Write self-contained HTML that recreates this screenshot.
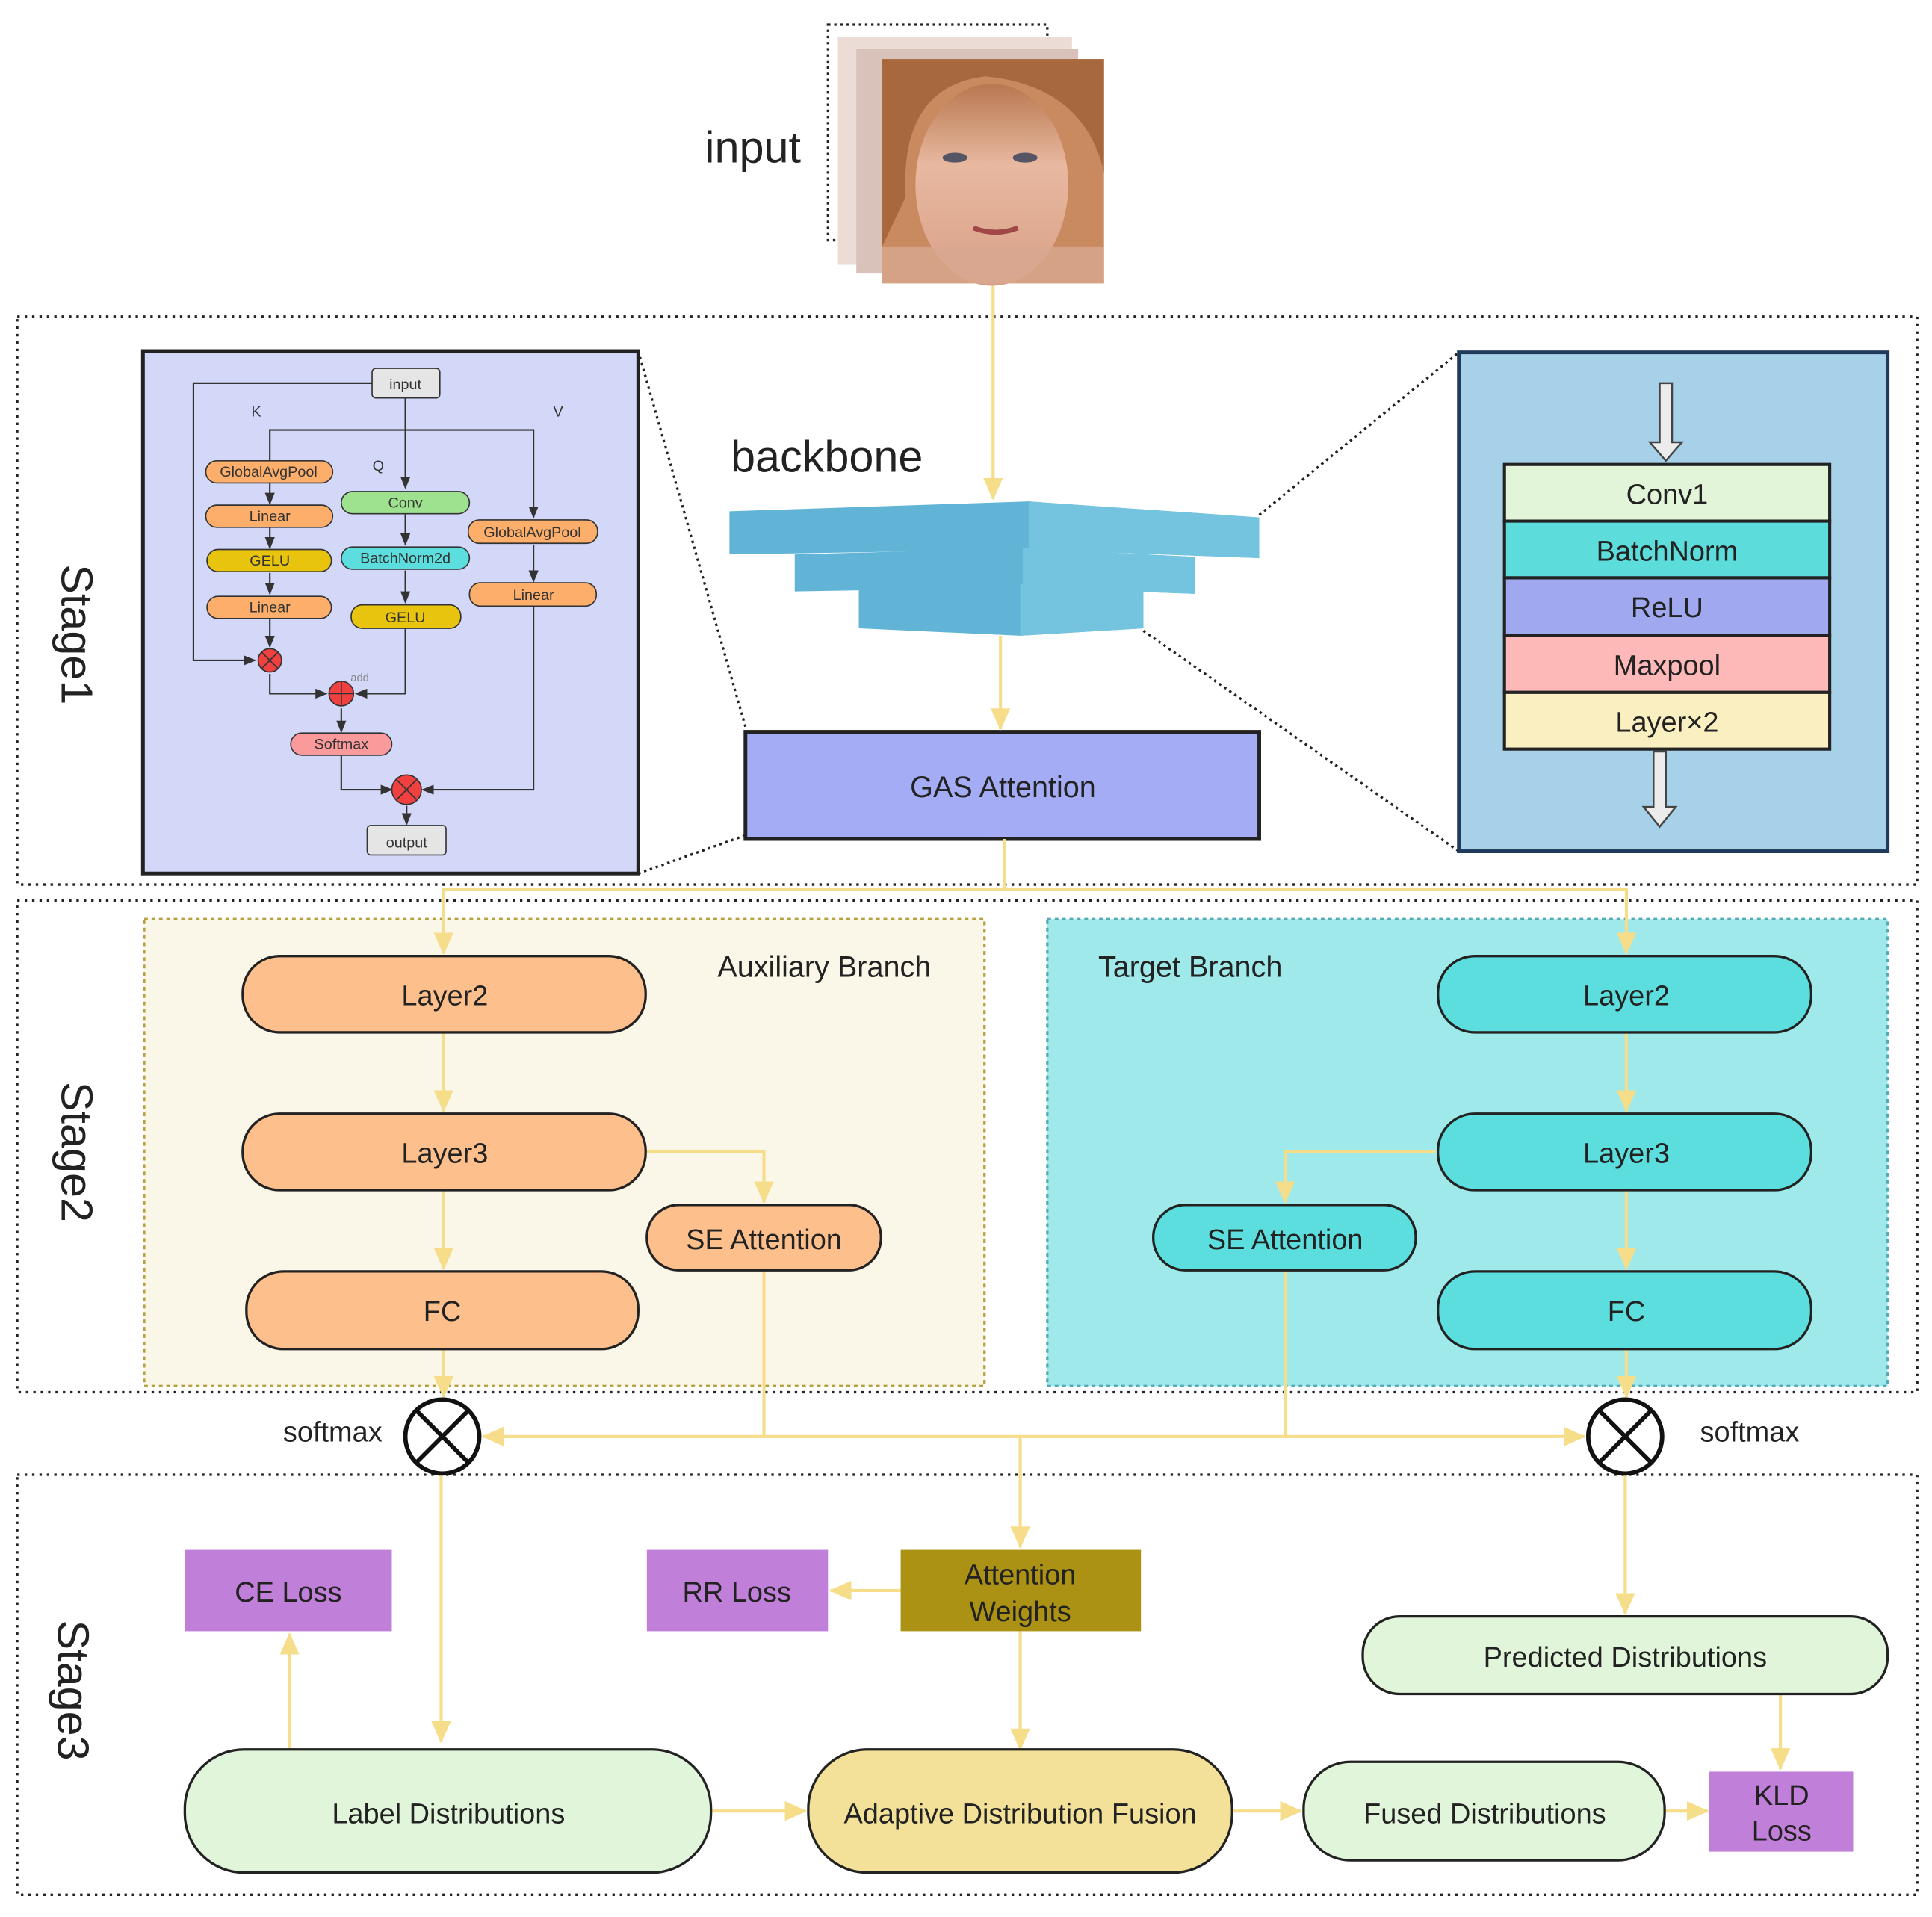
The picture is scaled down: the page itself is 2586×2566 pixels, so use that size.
<!DOCTYPE html>
<html><head><meta charset="utf-8"><style>html,body{margin:0;padding:0;background:#fff}svg{display:block}</style></head>
<body>
<svg width="2586" height="2566" viewBox="0 0 1568 1556" preserveAspectRatio="none" xmlns="http://www.w3.org/2000/svg" font-family="Liberation Sans, DejaVu Sans, sans-serif">
<defs>
<marker id="ay" markerWidth="8" markerHeight="8" refX="7" refY="4" orient="auto" markerUnits="userSpaceOnUse"><path d="M0,0 L8,4 L0,8 Z" fill="#f5dd8a"/></marker>
<marker id="ayb" markerWidth="18" markerHeight="16" refX="17" refY="8" orient="auto" markerUnits="userSpaceOnUse"><path d="M0,0 L18,8 L0,16 Z" fill="#f5dd8a"/></marker>
<marker id="ak" markerWidth="10" markerHeight="8" refX="9" refY="4" orient="auto" markerUnits="userSpaceOnUse"><path d="M0,0 L10,4 L0,8 Z" fill="#333"/></marker>
<linearGradient id="skin" x1="0" y1="0" x2="0" y2="1"><stop offset="0" stop-color="#b87850"/><stop offset="0.4" stop-color="#e8b8a0"/><stop offset="1" stop-color="#d9a088"/></linearGradient>
</defs>

<!-- input images -->
<text x="650" y="132" font-size="36" fill="#222" text-anchor="end">input</text>
<rect x="672" y="20" width="178" height="175" fill="none" stroke="#222" stroke-width="2" stroke-dasharray="2,3"/>
<rect x="680" y="30" width="190" height="185" fill="#ecdcd6"/>
<rect x="695" y="40" width="180" height="182" fill="#d8c2ba"/>
<rect x="716" y="48" width="180" height="182" fill="#c98a60"/>
<ellipse cx="805" cy="150" rx="62" ry="82" fill="url(#skin)"/>
<path d="M716,48 L896,48 L896,140 Q880,70 800,62 Q730,70 735,160 L716,200 Z" fill="#a8683e"/>
<ellipse cx="775" cy="128" rx="10" ry="4" fill="#556"/><ellipse cx="832" cy="128" rx="10" ry="4" fill="#556"/>
<path d="M790,185 Q808,192 826,185" stroke="#a04848" stroke-width="4" fill="none"/>
<rect x="716" y="200" width="180" height="30" fill="#d8a890" opacity="0.8"/>

<!-- stage boxes -->
<rect x="14" y="257" width="1542" height="461" fill="none" stroke="#222" stroke-width="2" stroke-dasharray="2,4"/>
<rect x="14" y="731" width="1542" height="399" fill="none" stroke="#222" stroke-width="2" stroke-dasharray="2,4"/>
<rect x="14" y="1197" width="1542" height="341" fill="none" stroke="#222" stroke-width="2" stroke-dasharray="2,4"/>
<text transform="translate(50,515) rotate(90)" font-size="36" fill="#222" text-anchor="middle">Stage1</text>
<text transform="translate(50,935) rotate(90)" font-size="36" fill="#222" text-anchor="middle">Stage2</text>
<text transform="translate(47,1372) rotate(90)" font-size="36" fill="#222" text-anchor="middle">Stage3</text>

<!-- dotted zoom lines -->
<g stroke="#222" stroke-width="2" stroke-dasharray="2,3" fill="none">
<line x1="518" y1="285" x2="605" y2="590"/><line x1="518" y1="709" x2="605" y2="678"/>
<line x1="1022" y1="418" x2="1184" y2="286"/><line x1="928" y1="512" x2="1184" y2="691"/>
</g>

<!-- attention panel -->
<rect x="116" y="285" width="402" height="424" fill="#d3d7f8" stroke="#222" stroke-width="3"/>
<g stroke="#333" stroke-width="1.3" fill="none">
<polyline points="302,311 157,311 157,536 207,536" marker-end="url(#ak)"/>
<line x1="329" y1="323" x2="329" y2="396" marker-end="url(#ak)"/>
<polyline points="219,374 219,349 433,349 433,420" marker-end="url(#ak)"/>
<line x1="219" y1="392" x2="219" y2="409" marker-end="url(#ak)"/>
<line x1="219" y1="428" x2="219" y2="445" marker-end="url(#ak)"/>
<line x1="219" y1="465" x2="219" y2="482" marker-end="url(#ak)"/>
<line x1="219" y1="502" x2="219" y2="525" marker-end="url(#ak)"/>
<line x1="329" y1="417" x2="329" y2="442" marker-end="url(#ak)"/>
<line x1="329" y1="463" x2="329" y2="489" marker-end="url(#ak)"/>
<line x1="433" y1="442" x2="433" y2="472" marker-end="url(#ak)"/>
<polyline points="219,547 219,563 265,563" marker-end="url(#ak)"/>
<polyline points="329,510 329,563 289,563" marker-end="url(#ak)"/>
<line x1="277" y1="575" x2="277" y2="594" marker-end="url(#ak)"/>
<polyline points="277,613 277,641 318,641" marker-end="url(#ak)"/>
<polyline points="433,492 433,641 343,641" marker-end="url(#ak)"/>
<line x1="330" y1="654" x2="330" y2="669" marker-end="url(#ak)"/>
</g>
<g font-size="11.5" text-anchor="middle" fill="#333" stroke="#333" stroke-width="1">
<rect x="302" y="299" width="55" height="24" rx="3" fill="#e5e5e5"/>
<rect x="167" y="374" width="103" height="18" rx="9" fill="#fdae6a"/>
<rect x="167" y="410" width="103" height="18" rx="9" fill="#fdae6a"/>
<rect x="168" y="446" width="101" height="18" rx="9" fill="#e8c40e"/>
<rect x="168" y="484" width="101" height="18" rx="9" fill="#fdae6a"/>
<rect x="277" y="399" width="104" height="18" rx="9" fill="#9ee28f"/>
<rect x="277" y="444" width="104" height="18" rx="9" fill="#5ddede"/>
<rect x="285" y="491" width="89" height="19" rx="9" fill="#e8c40e"/>
<rect x="380" y="422" width="105" height="19" rx="9" fill="#fdae6a"/>
<rect x="381" y="473" width="103" height="19" rx="9" fill="#fdae6a"/>
<rect x="236" y="595" width="82" height="18" rx="9" fill="#fb9a9a"/>
<rect x="298" y="670" width="64" height="24" rx="3" fill="#e5e5e5"/>
<circle cx="219" cy="536" r="9.5" fill="#f04040"/><path d="M212,529 L226,543 M226,529 L212,543"/>
<circle cx="277" cy="563" r="10" fill="#f04040"/><path d="M267,563 L287,563 M277,553 L277,573"/>
<circle cx="330" cy="641" r="12" fill="#f04040"/><path d="M322,633 L338,649 M338,633 L322,649"/>
</g>
<g font-size="12" text-anchor="middle" fill="#333">
<text x="329" y="316">input</text><text x="218" y="387">GlobalAvgPool</text><text x="219" y="423">Linear</text>
<text x="219" y="459">GELU</text><text x="219" y="497">Linear</text><text x="329" y="412">Conv</text>
<text x="329" y="457">BatchNorm2d</text><text x="329" y="505">GELU</text><text x="432" y="436">GlobalAvgPool</text>
<text x="433" y="487">Linear</text><text x="277" y="608">Softmax</text><text x="330" y="688">output</text>
<text x="208" y="338">K</text><text x="307" y="382">Q</text><text x="453" y="338">V</text>
<text x="292" y="553" font-size="9" fill="#888">add</text>
</g>

<!-- backbone -->
<text x="593" y="383" font-size="36" fill="#222">backbone</text>
<polygon points="592,415 835,407 1022,420 1022,453 835,446 592,450" fill="#62b4d6"/>
<polygon points="835,407 1022,420 1022,453 835,446" fill="#74c4e0"/>
<polygon points="645,450 830,445 970,452 970,482 830,477 645,480" fill="#62b4d6"/>
<polygon points="830,445 970,452 970,482 830,477" fill="#74c4e0"/>
<polygon points="697,479 828,474 928,481 928,510 828,516 697,510" fill="#62b4d6"/>
<polygon points="828,474 928,481 928,510 828,516" fill="#74c4e0"/>

<!-- right panel -->
<rect x="1184" y="286" width="348" height="405" fill="#a6d1e8" stroke="#1f3a5a" stroke-width="3"/>
<path d="M1347,311 h10 v48 h8 l-13,15 l-13,-15 h8 z" fill="#ececec" stroke="#444" stroke-width="1.5"/>
<path d="M1342,610 h10 v45 h8 l-13,16 l-13,-16 h8 z" fill="#ececec" stroke="#444" stroke-width="1.5"/>
<g stroke="#222" stroke-width="2.5">
<rect x="1221" y="377" width="264" height="46" fill="#e2f5d9"/>
<rect x="1221" y="423" width="264" height="46" fill="#5ddcdc"/>
<rect x="1221" y="469" width="264" height="47" fill="#a0a8f0"/>
<rect x="1221" y="516" width="264" height="46" fill="#fdb8b8"/>
<rect x="1221" y="562" width="264" height="46" fill="#faefc0"/>
</g>
<g font-size="23" text-anchor="middle" fill="#222">
<text x="1353" y="409">Conv1</text><text x="1353" y="455">BatchNorm</text><text x="1353" y="501">ReLU</text>
<text x="1353" y="548">Maxpool</text><text x="1353" y="594">Layer×2</text>
</g>

<!-- GAS -->
<rect x="605" y="594" width="417" height="87" fill="#a3acf4" stroke="#222" stroke-width="3"/>
<text x="814" y="647" font-size="24" text-anchor="middle" fill="#222">GAS Attention</text>

<!-- stage2 boxes -->
<rect x="117" y="746" width="682" height="379" fill="#faf6e8" stroke="#b8a040" stroke-width="2" stroke-dasharray="3,3"/>
<rect x="850" y="746" width="682" height="379" fill="#9fe9ea" stroke="#55aab8" stroke-width="2" stroke-dasharray="3,3"/>
<text x="669" y="793" font-size="24" text-anchor="middle" fill="#222">Auxiliary Branch</text>
<text x="966" y="793" font-size="24" text-anchor="middle" fill="#222">Target Branch</text>

<!-- yellow connectors -->
<g stroke="#f5dd8a" stroke-width="2.5" fill="none">
<line x1="806" y1="232" x2="806" y2="405" marker-end="url(#ayb)"/>
<line x1="812" y1="516" x2="812" y2="592" marker-end="url(#ayb)"/>
<polyline points="815,681 815,722 360,722 360,774" marker-end="url(#ayb)"/>
<polyline points="815,722 1320,722 1320,774" marker-end="url(#ayb)"/>
<line x1="360" y1="838" x2="360" y2="902" marker-end="url(#ayb)"/>
<polyline points="525,935 620,935 620,976" marker-end="url(#ayb)"/>
<line x1="360" y1="966" x2="360" y2="1030" marker-end="url(#ayb)"/>
<line x1="360" y1="1095" x2="360" y2="1134" marker-end="url(#ayb)"/>
<line x1="1320" y1="838" x2="1320" y2="902" marker-end="url(#ayb)"/>
<polyline points="1165,935 1043,935 1043,976" marker-end="url(#ayb)"/>
<line x1="1320" y1="966" x2="1320" y2="1030" marker-end="url(#ayb)"/>
<line x1="1320" y1="1095" x2="1320" y2="1134" marker-end="url(#ayb)"/>
<polyline points="620,1031 620,1166 392,1166" marker-end="url(#ayb)"/>
<polyline points="620,1166 1043,1166 1043,1031"/>
<line x1="1043" y1="1166" x2="1286" y2="1166" marker-end="url(#ayb)"/>
<line x1="828" y1="1166" x2="828" y2="1256" marker-end="url(#ayb)"/>
<line x1="358" y1="1197" x2="358" y2="1414" marker-end="url(#ayb)"/>
<line x1="235" y1="1420" x2="235" y2="1326" marker-end="url(#ayb)"/>
<line x1="731" y1="1291" x2="674" y2="1291" marker-end="url(#ayb)"/>
<line x1="828" y1="1324" x2="828" y2="1420" marker-end="url(#ayb)"/>
<line x1="577" y1="1470" x2="654" y2="1470" marker-end="url(#ayb)"/>
<line x1="1000" y1="1470" x2="1056" y2="1470" marker-end="url(#ayb)"/>
<line x1="1351" y1="1470" x2="1386" y2="1470" marker-end="url(#ayb)"/>
<line x1="1445" y1="1375" x2="1445" y2="1436" marker-end="url(#ayb)"/>
<line x1="1319" y1="1197" x2="1319" y2="1310" marker-end="url(#ayb)"/>
</g>

<!-- stage2 nodes -->
<g stroke="#222" stroke-width="2">
<rect x="197" y="776" width="327" height="62" rx="30" fill="#fdbf8c"/>
<rect x="197" y="904" width="327" height="62" rx="30" fill="#fdbf8c"/>
<rect x="200" y="1032" width="318" height="63" rx="30" fill="#fdbf8c"/>
<rect x="525" y="978" width="190" height="53" rx="26" fill="#fdbf8c"/>
<rect x="1167" y="776" width="303" height="62" rx="30" fill="#5ddede"/>
<rect x="1167" y="904" width="303" height="62" rx="30" fill="#5ddede"/>
<rect x="1167" y="1032" width="303" height="63" rx="30" fill="#5ddede"/>
<rect x="936" y="978" width="213" height="53" rx="26" fill="#5ddede"/>
</g>
<g font-size="23" text-anchor="middle" fill="#222">
<text x="361" y="816">Layer2</text><text x="361" y="944">Layer3</text><text x="359" y="1072">FC</text><text x="620" y="1014">SE Attention</text>
<text x="1320" y="816">Layer2</text><text x="1320" y="944">Layer3</text><text x="1320" y="1072">FC</text><text x="1043" y="1014">SE Attention</text>
</g>

<!-- softmax circles -->
<g stroke="#111" stroke-width="3.5" fill="#fff">
<circle cx="359" cy="1166" r="30"/><path d="M338,1145 L380,1187 M380,1145 L338,1187"/>
<circle cx="1319" cy="1166" r="30"/><path d="M1298,1145 L1340,1187 M1340,1145 L1298,1187"/>
</g>
<text x="270" y="1170" font-size="23" text-anchor="middle" fill="#222">softmax</text>
<text x="1420" y="1170" font-size="23" text-anchor="middle" fill="#222">softmax</text>

<!-- stage3 -->
<rect x="150" y="1258" width="168" height="66" fill="#c07fd8"/>
<rect x="525" y="1258" width="147" height="66" fill="#c07fd8"/>
<rect x="731" y="1258" width="195" height="66" fill="#ab9215"/>
<rect x="1387" y="1438" width="117" height="65" fill="#c07fd8"/>
<g stroke="#222" stroke-width="2">
<rect x="1106" y="1312" width="426" height="63" rx="30" fill="#e0f5d9"/>
<rect x="150" y="1420" width="427" height="100" rx="48" fill="#e0f5d9"/>
<rect x="656" y="1420" width="344" height="100" rx="48" fill="#f3e19a"/>
<rect x="1058" y="1430" width="293" height="80" rx="38" fill="#e0f5d9"/>
</g>
<g font-size="23" text-anchor="middle" fill="#222">
<text x="234" y="1300">CE Loss</text><text x="598" y="1300">RR Loss</text>
<text x="828" y="1286">Attention</text><text x="828" y="1316">Weights</text>
<text x="1319" y="1353">Predicted Distributions</text>
<text x="364" y="1480">Label Distributions</text>
<text x="828" y="1480">Adaptive Distribution Fusion</text>
<text x="1205" y="1480">Fused Distributions</text>
<text x="1446" y="1465">KLD</text><text x="1446" y="1494">Loss</text>
</g>
</svg>
</body></html>
